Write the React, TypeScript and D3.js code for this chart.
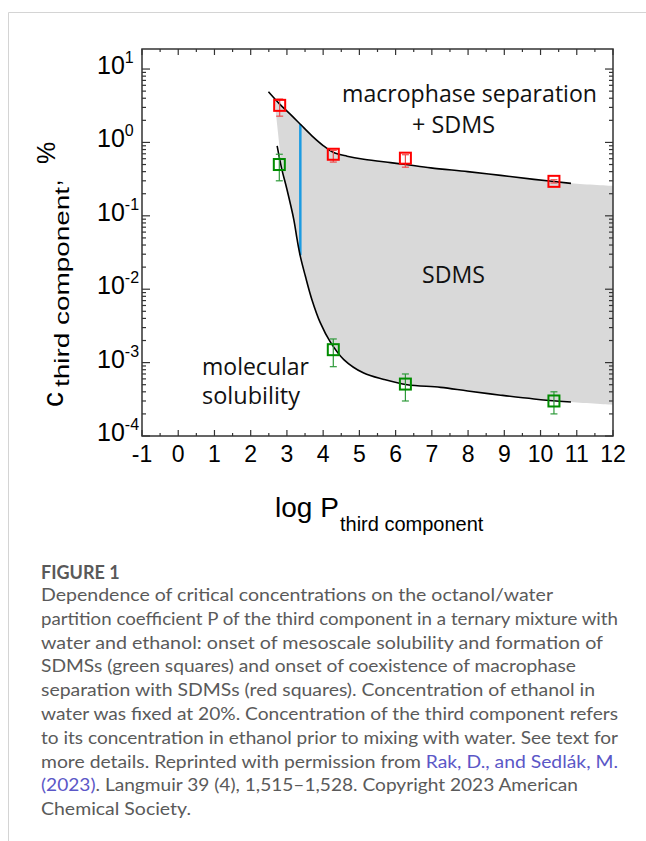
import React from 'react';
import * as d3 from 'd3';

// ---------- data ----------
const upperCurve: [number, number][] = [
  [2.49, 4.9], [2.8, 3.33], [3.09, 2.43], [3.37, 1.77], [3.69, 1.23], [4.01, 0.9],
  [4.29, 0.73], [4.66, 0.65], [5.12, 0.59], [5.86, 0.53], [6.28, 0.5], [6.97, 0.45],
  [7.99, 0.4], [8.9, 0.356], [9.82, 0.314], [10.84, 0.277],
];
const lowerCurve: [number, number][] = [
  [2.73, 0.9], [2.86, 0.43], [3.0, 0.23], [3.19, 0.089], [3.28, 0.048], [3.37, 0.028],
  [3.51, 0.015], [3.69, 0.0072], [3.92, 0.0035], [4.2, 0.0019], [4.57, 0.0011],
  [5.12, 0.00072], [5.68, 0.00059], [6.32, 0.0005], [7.24, 0.00046], [7.99, 0.00041],
  [8.9, 0.00036], [9.82, 0.00032], [10.84, 0.00029],
];
const fillTopLeft: [number, number] = [2.65, 4.1];
const fillTopRight: [number, number] = [12, 0.255];
const fillBottomRight: [number, number] = [12, 0.000265];
const fillBottomLeftX = 2.86;

const redPoints = [
  { x: 2.8, y: 3.2, lo: 2.28, hi: 3.9 },
  { x: 4.28, y: 0.69, lo: 0.54, hi: 0.78 },
  { x: 6.27, y: 0.61, lo: 0.46, hi: 0.68 },
  { x: 10.37, y: 0.295, lo: 0.28, hi: 0.31 },
];
const greenPoints = [
  { x: 2.79, y: 0.5, lo: 0.3, hi: 0.69 },
  { x: 4.28, y: 0.0015, lo: 0.00088, hi: 0.0021 },
  { x: 6.27, y: 0.00051, lo: 0.0003, hi: 0.0007 },
  { x: 10.37, y: 0.0003, lo: 0.0002, hi: 0.0004 },
];
const blueLine = { x: 3.37, top: 1.77, bottom: 0.029 };

const xTickLabels = [-1, 0, 1, 2, 3, 4, 5, 6, 7, 8, 9, 10, 11, 12];
const yDecades = [-4, -3, -2, -1, 0, 1];

const captionTitle = 'FIGURE 1';
const captionLines: { parts: { t: string; link?: boolean }[]; w: number }[] = [
  { parts: [{ t: 'Dependence of critical concentrations on the octanol/water' }], w: 512 },
  { parts: [{ t: 'partition coefficient P of the third component in a ternary mixture with' }], w: 577 },
  { parts: [{ t: 'water and ethanol: onset of mesoscale solubility and formation of' }], w: 562 },
  { parts: [{ t: 'SDMSs (green squares) and onset of coexistence of macrophase' }], w: 535 },
  { parts: [{ t: 'separation with SDMSs (red squares). Concentration of ethanol in' }], w: 554 },
  { parts: [{ t: 'water was fixed at 20%. Concentration of the third component refers' }], w: 577 },
  { parts: [{ t: 'to its concentration in ethanol prior to mixing with water. See text for' }], w: 577 },
  { parts: [{ t: 'more details. Reprinted with permission from ' }, { t: 'Rak, D., and Sedlák, M.', link: true }], w: 577 },
  { parts: [{ t: '(2023)', link: true }, { t: '. Langmuir 39 (4), 1,515–1,528. Copyright 2023 American' }], w: 537 },
  { parts: [{ t: 'Chemical Society.' }], w: 150 },
];

// ---------- layout ----------
const W = 646;
const H = 841;
const L = 142, R = 613, T = 49, B = 436;

export default function App() {
  const x = d3.scaleLinear().domain([-1, 12]).range([L, R]);
  const y = d3.scaleLog().domain([1e-4, Math.pow(10, 1.273)]).range([B, T]);

  const line = d3
    .line<[number, number]>()
    .x((d) => x(d[0]))
    .y((d) => y(d[1]))
    .curve(d3.curveCatmullRom.alpha(0.5));

  const upperFill: [number, number][] = [fillTopLeft, ...upperCurve.filter((d) => d[0] > fillTopLeft[0]), fillTopRight];
  const lowerFill: [number, number][] = [fillBottomRight, ...lowerCurve.filter((d) => d[0] >= fillBottomLeftX).reverse()];
  const fillPath =
    (line(upperFill) || '') + (line(lowerFill) || '').replace(/^M/, 'L') + 'Z';

  const sans = "'Liberation Sans', Arial, sans-serif";
  const calib = "'Open Sans', sans-serif";

  // ticks
  const xMinor = d3.range(-1, 12.001, 0.5);
  const yTicks: { v: number; major: boolean }[] = [];
  for (let e = -4; e <= 1; e++) {
    for (let m = 1; m <= 9; m++) {
      const v = m * Math.pow(10, e);
      if (v <= Math.pow(10, 1.273) && v >= 1e-4) yTicks.push({ v, major: m === 1 });
    }
  }

  const errBar = (p: { x: number; lo: number; hi: number }, color: string, key: string) => {
    const cx = x(p.x);
    return (
      <g key={key} stroke={color} strokeWidth={1.2}>
        <line x1={cx} x2={cx} y1={y(p.lo)} y2={y(p.hi)} />
        <line x1={cx - 3.5} x2={cx + 3.5} y1={y(p.lo)} y2={y(p.lo)} />
        <line x1={cx - 3.5} x2={cx + 3.5} y1={y(p.hi)} y2={y(p.hi)} />
      </g>
    );
  };
  const square = (p: { x: number; y: number }, color: string, key: string) => (
    <rect key={key} x={x(p.x) - 5.5} y={y(p.y) - 5.5} width={11} height={11} fill="none" stroke={color} strokeWidth={2} />
  );

  return (
    <svg width={W} height={H} style={{ position: 'absolute', left: 0, top: 0, background: '#fff' }}>
      {/* page frame */}
      <line x1={8.5} y1={12.5} x2={W} y2={12.5} stroke="#d4d4d4" strokeWidth={1} />
      <line x1={8.5} y1={12.5} x2={8.5} y2={H} stroke="#d4d4d4" strokeWidth={1} />

      {/* shaded SDMS region */}
      <path d={fillPath} fill="#d9d9d9" stroke="none" />

      {/* blue line */}
      <line x1={x(blueLine.x)} x2={x(blueLine.x)} y1={y(blueLine.top)} y2={y(blueLine.bottom)} stroke="#1b9be2" strokeWidth={2.5} />

      {/* curves */}
      <path d={line(upperCurve) || ''} fill="none" stroke="#000" strokeWidth={1.6} />
      <path d={line(lowerCurve) || ''} fill="none" stroke="#000" strokeWidth={1.6} />

      {/* error bars & squares */}
      {redPoints.map((p, i) => errBar(p, '#f04a4a', 're' + i))}
      {greenPoints.map((p, i) => errBar(p, '#2e9a3a', 'ge' + i))}
      {redPoints.map((p, i) => square(p, '#ff0000', 'rs' + i))}
      {greenPoints.map((p, i) => square(p, '#008c00', 'gs' + i))}

      {/* axes frame */}
      <rect x={L} y={T} width={R - L} height={B - T} fill="none" stroke="#333" strokeWidth={1.5} />

      {/* ticks */}
      <g stroke="#333" strokeWidth={1.2}>
        {xMinor.map((v, i) => {
          const len = Number.isInteger(v) ? 6 : 3;
          return (
            <g key={'xt' + i}>
              <line x1={x(v)} x2={x(v)} y1={B} y2={B - len} />
              <line x1={x(v)} x2={x(v)} y1={T} y2={T + len} />
            </g>
          );
        })}
        {yTicks.map((t, i) => {
          const len = t.major ? 8 : 4;
          return (
            <g key={'yt' + i}>
              <line x1={L} x2={L + len} y1={y(t.v)} y2={y(t.v)} />
              <line x1={R} x2={R - len} y1={y(t.v)} y2={y(t.v)} />
            </g>
          );
        })}
      </g>

      {/* x tick labels */}
      {xTickLabels.map((v) => (
        <text key={'xl' + v} x={x(v)} y={462} textAnchor="middle" fontFamily={sans} fontSize={23} fill="#000">
          {String(v)}
        </text>
      ))}

      {/* y tick labels */}
      {yDecades.map((e) => (
        <text key={'yl' + e} x={97} y={y(Math.pow(10, e)) + 5} fontFamily={sans} fontSize={25} fill="#000">
          10
          <tspan fontSize={16} dy={-11}>{String(e)}</tspan>
        </text>
      ))}

      {/* axis titles */}
      <text x={275} y={517} fontFamily={sans} fontSize={28} fill="#000">log P</text>
      <text x={340} y={531} fontFamily={sans} fontSize={20} fill="#000">third component</text>

      <text transform="translate(63,407) rotate(-90)" fontFamily={sans} fontSize={30} fill="#000">c</text>
      <text transform="translate(69,387) rotate(-90)" fontFamily={sans} fontSize={20} fill="#000" textLength={200} lengthAdjust="spacingAndGlyphs">third component</text>
      <text transform="translate(60,186) rotate(-90)" fontFamily={sans} fontSize={22} fill="#000">,</text>
      <text transform="translate(55,164) rotate(-90)" fontFamily={sans} fontSize={25} fill="#000">%</text>

      {/* region labels */}
      <text x={342} y={102} fontFamily={calib} fontSize={23} fill="#111" textLength={255} lengthAdjust="spacingAndGlyphs">macrophase separation</text>
      <text x={412} y={133} fontFamily={calib} fontSize={23} fill="#111" textLength={83} lengthAdjust="spacingAndGlyphs">+ SDMS</text>
      <text x={422} y={283} fontFamily={calib} fontSize={23} fill="#111" textLength={63} lengthAdjust="spacingAndGlyphs">SDMS</text>
      <text x={202} y={375} fontFamily={calib} fontSize={23} fill="#111" textLength={107} lengthAdjust="spacingAndGlyphs">molecular</text>
      <text x={202} y={404} fontFamily={calib} fontSize={23} fill="#111" textLength={98} lengthAdjust="spacingAndGlyphs">solubility</text>

      {/* caption */}
      <text x={41} y={579} fontFamily="Lato, sans-serif" fontWeight={700} fontSize={18} fill="#595959">{captionTitle}</text>
      {captionLines.map((ln, i) => (
        <text key={'cap' + i} x={41} y={601 + i * 23.8} fontFamily="Lato, sans-serif" fontSize={18} fill="#5a5a5a" textLength={ln.w} lengthAdjust="spacingAndGlyphs">
          {ln.parts.map((p, j) => (
            <tspan key={j} fill={p.link ? '#5b57c7' : '#5a5a5a'}>{p.t}</tspan>
          ))}
        </text>
      ))}
    </svg>
  );
}
